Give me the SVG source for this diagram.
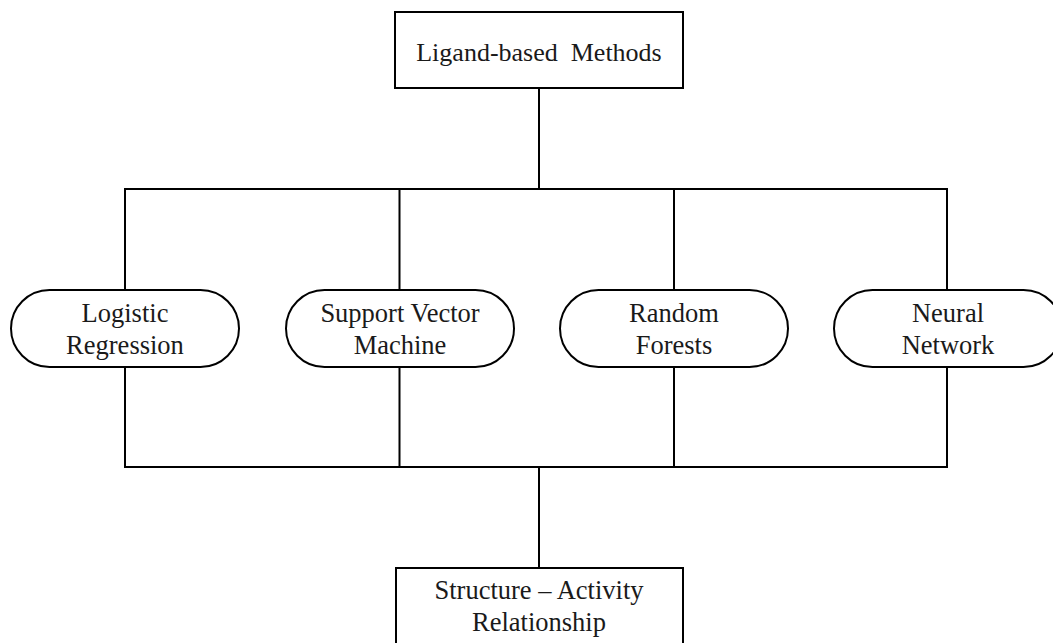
<svg xmlns="http://www.w3.org/2000/svg" width="1053" height="643" viewBox="0 0 1053 643">
<style>
  .box { fill: #ffffff; stroke: #000000; stroke-width: 2; }
  .conn { fill: none; stroke: #000000; stroke-width: 2; }
  text { font-family: "Liberation Serif", "Times New Roman", serif; font-size: 26.5px; fill: #1a1a1a; text-anchor: middle; }
</style>
<rect width="1053" height="643" fill="#ffffff"/>
<g id="connectors">
  <line class="conn" x1="539" y1="88" x2="539" y2="189"/>
  <rect class="conn" x="125" y="189" width="822" height="278"/>
  <line class="conn" x1="399.5" y1="189" x2="399.5" y2="467"/>
  <line class="conn" x1="674" y1="189" x2="674" y2="467"/>
  <line class="conn" x1="539" y1="467" x2="539" y2="568"/>
</g>
<g id="ligand">
  <rect class="box" x="395" y="12" width="288" height="76"/>
  <text x="539" y="61" style="font-size:26px" xml:space="preserve">Ligand-based  Methods</text>
</g>
<g id="logistic">
  <rect class="box" x="11" y="290" width="228" height="77" rx="38.5" ry="38.5"/>
  <text x="125" y="322">Logistic</text>
  <text x="125" y="354">Regression</text>
</g>
<g id="svm">
  <rect class="box" x="286" y="290" width="228" height="77" rx="38.5" ry="38.5"/>
  <text x="400" y="322">Support Vector</text>
  <text x="400" y="354">Machine</text>
</g>
<g id="rf">
  <rect class="box" x="560" y="290" width="228" height="77" rx="38.5" ry="38.5"/>
  <text x="674" y="322">Random</text>
  <text x="674" y="354">Forests</text>
</g>
<g id="nn">
  <rect class="box" x="834" y="290" width="228" height="77" rx="38.5" ry="38.5"/>
  <text x="948" y="322">Neural</text>
  <text x="948" y="354">Network</text>
</g>
<g id="sar">
  <rect class="box" x="396" y="568" width="287" height="90"/>
  <text x="539" y="599">Structure – Activity</text>
  <text x="539" y="631">Relationship</text>
</g>
</svg>
